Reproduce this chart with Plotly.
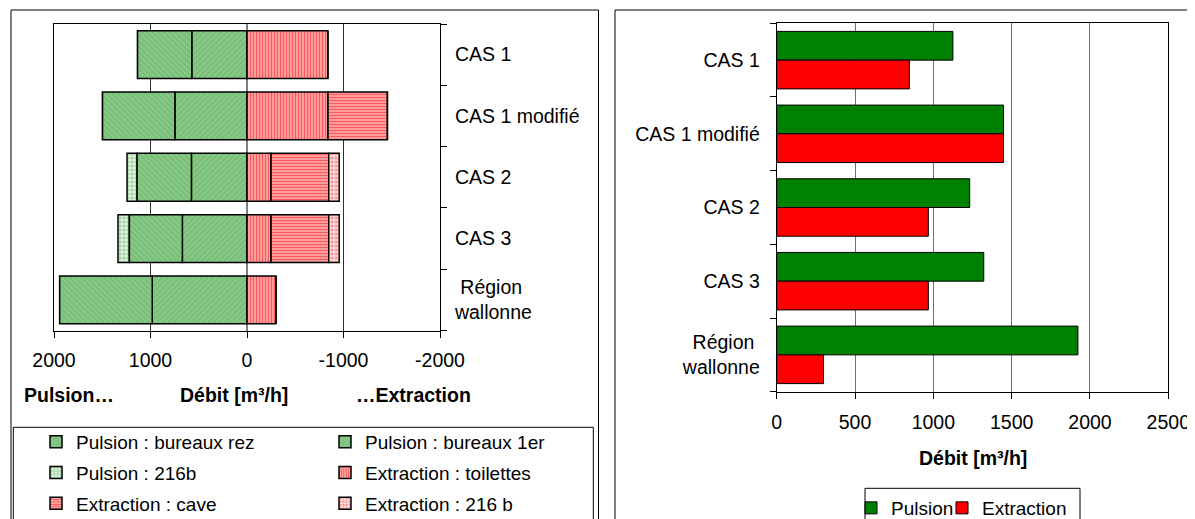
import plotly.graph_objects as go

# Categories (top to bottom) and tick labels
categories = ["CAS 1", "CAS 1 modifié", "CAS 2", "CAS 3", "Région wallonne"]
left_ticktext = ["CAS 1", "CAS 1 modifié", "CAS 2", "CAS 3", "\u00a0Région<br>wallonne"]
right_ticktext = ["CAS 1", "CAS 1 modifié", "CAS 2", "CAS 3", "Région\u00a0<br>wallonne"]

# Left chart: detail per zone [m3/h]
pulsion_rez = [572, 747, 576, 670, 982]
pulsion_1er = [562, 750, 563, 549, 959]
pulsion_216b = [0, 0, 104, 118, 0]
extraction_toilettes = [837, 837, 247, 247, 299]
extraction_cave = [0, 618, 600, 600, 0]
extraction_216b = [0, 0, 108, 108, 0]

# Right chart: totals [m3/h]
total_pulsion = [1125, 1448, 1232, 1322, 1923]
total_extraction = [847, 1448, 968, 968, 299]

left_xticks = [2000, 1000, 0, -1000, -2000]
right_xticks = [0, 500, 1000, 1500, 2000, 2500]

# the page body adds an 8px offset, so the figure is sized to fill the rest of the window
OFF = 8
W, H = 1195 - OFF, 519 - OFF
FONT = "Liberation Sans, Arial, sans-serif"
FS = 19.5


def px(x):
    return (x - OFF) / W


def py(y):
    return 1 - (y - OFF) / H


green_fine = dict(bgcolor="#86C986", fgcolor="#5EA95E", size=4, solidity=0.3)
green_dots = dict(bgcolor="#DDF0DD", fgcolor="#5FB05F", size=4, solidity=0.45)
red_lines = dict(bgcolor="#FFB4B4", fgcolor="#FF0000", size=3, solidity=0.5)
red_dots = dict(bgcolor="#FFE0E0", fgcolor="#FF4040", size=4, solidity=0.45)

# (name, values, pattern, legend column)
pulsion_series = [
    ("Pulsion : bureaux rez", pulsion_rez, dict(shape="/", **green_fine), "legend"),
    ("Pulsion : bureaux 1er", pulsion_1er, dict(shape="\\", **green_fine), "legend2"),
    ("Pulsion : 216b", pulsion_216b, dict(shape=".", **green_dots), "legend"),
]
extraction_series = [
    ("Extraction : toilettes", extraction_toilettes, dict(shape="|", **red_lines), "legend2"),
    ("Extraction : cave", extraction_cave, dict(shape="-", **red_lines), "legend"),
    ("Extraction : 216 b", extraction_216b, dict(shape=".", **red_dots), "legend2"),
]

fig = go.Figure()

# stacked bars built with explicit bases (pulsion positive -> left, extraction negative -> right)
row = {"Pulsion : bureaux rez": 0, "Pulsion : 216b": 1, "Extraction : cave": 2,
       "Pulsion : bureaux 1er": 0, "Extraction : toilettes": 1, "Extraction : 216 b": 2}
traces = []
for series, sign in ((pulsion_series, 1), (extraction_series, -1)):
    cum = [0] * len(categories)
    for name, vals, pattern, leg in series:
        traces.append((leg, row[name], go.Bar(
            y=categories, x=[sign * v for v in vals], base=[sign * c for c in cum],
            orientation="h", name=name, width=0.78,
            marker=dict(color=pattern["bgcolor"], pattern=pattern,
                        line=dict(color="black", width=1.5)),
            legend=leg, legendgroup=name, xaxis="x", yaxis="y",
        )))
        cum = [c + v for c, v in zip(cum, vals)]

for _, _, tr in sorted(traces, key=lambda t: (t[0], t[1])):
    fig.add_trace(tr)

# right chart
fig.add_trace(go.Bar(y=categories, x=total_pulsion, orientation="h", name="Pulsion",
                     width=0.39, offset=-0.39, legendwidth=46,
                     marker=dict(color="#008000", line=dict(color="black", width=1)),
                     legend="legend3", xaxis="x2", yaxis="y2"))
fig.add_trace(go.Bar(y=categories, x=total_extraction, orientation="h", name="Extraction",
                     width=0.39, offset=0.0, legendwidth=95,
                     marker=dict(color="#FF0000", line=dict(color="black", width=1)),
                     legend="legend3", xaxis="x2", yaxis="y2"))

axis_font = dict(family=FONT, size=FS, color="black")
legend_font = dict(family=FONT, size=19, color="black")

fig.update_layout(
    width=W, height=H,
    margin=dict(l=0, r=0, t=0, b=0, autoexpand=False),
    barmode="overlay",
    paper_bgcolor="white", plot_bgcolor="white",
    font=axis_font,
    xaxis=dict(domain=[px(54), px(440)], range=[2000, -2000], tickvals=left_xticks,
               ticktext=[str(v) for v in left_xticks],
               ticks="outside", ticklen=6, tickcolor="black", tickfont=axis_font,
               ticklabelstandoff=6,
               showline=True, linecolor="black", linewidth=1, mirror=True,
               showgrid=True, gridcolor="#303030", gridwidth=1,
               zeroline=True, zerolinecolor="#808080", zerolinewidth=2, anchor="y"),
    yaxis=dict(domain=[py(330.5), py(24)], type="category", autorange="reversed",
               side="right", tickvals=categories, ticktext=left_ticktext,
               tickson="boundaries", ticks="outside", ticklen=6, tickcolor="black",
               ticklabelstandoff=10, tickfont=axis_font,
               showline=True, linecolor="black", linewidth=1, mirror=True,
               showgrid=False, anchor="x"),
    xaxis2=dict(domain=[px(776.7), px(1168.3)], range=[0, 2500], tickvals=right_xticks,
                ticks="outside", ticklen=6, tickcolor="black", tickfont=axis_font,
                ticklabelstandoff=7,
                showline=True, linecolor="black", linewidth=1, mirror=True,
                showgrid=True, gridcolor="#707070", gridwidth=1, zeroline=False, anchor="y2"),
    yaxis2=dict(domain=[py(391.7), py(23.3)], type="category", autorange="reversed",
                tickvals=categories, ticktext=right_ticktext,
                tickson="boundaries", ticks="outside", ticklen=6, tickcolor="black",
                ticklabelstandoff=12, tickfont=axis_font,
                showline=True, linecolor="black", linewidth=1, mirror=True,
                showgrid=False, anchor="x2"),
    legend=dict(x=px(36), y=py(423), xanchor="left", yanchor="top", font=legend_font,
                bgcolor="rgba(0,0,0,0)", tracegroupgap=3),
    legend2=dict(x=px(325), y=py(423), xanchor="left", yanchor="top", font=legend_font,
                 bgcolor="rgba(0,0,0,0)", tracegroupgap=3),
    legend3=dict(x=px(851), y=py(489), xanchor="left", yanchor="top", font=legend_font,
                 orientation="h", bgcolor="rgba(0,0,0,0)"),
    showlegend=True,
)

bold = dict(family=FONT, size=FS, color="black")
for text, x, anchor in (("<b>Pulsion…</b>", 21.7, "left"), ("<b>Débit [m³/h]</b>", 234, "center"),
                        ("<b>…Extraction</b>", 413, "center"), ("<b>Débit [m³/h]</b>", 973, "center")):
    y = 395 if x < 600 else 458
    fig.add_annotation(x=px(x), y=py(y), xref="paper", yref="paper", text=text,
                       showarrow=False, xanchor=anchor, yanchor="middle", font=bold)

# panel frames and legend boxes
for x0, y0, x1, y1 in ((11, 10, 598.5, 540), (615, 10, 1193.5, 540),
                       (13.3, 427.3, 593.3, 540), (865, 488.3, 1080, 540)):
    fig.add_shape(type="rect", xref="paper", yref="paper", x0=px(x0), x1=px(x1), y0=py(y1), y1=py(y0),
                  line=dict(color="black", width=1), fillcolor="rgba(0,0,0,0)")

fig.write_html("out.html")
